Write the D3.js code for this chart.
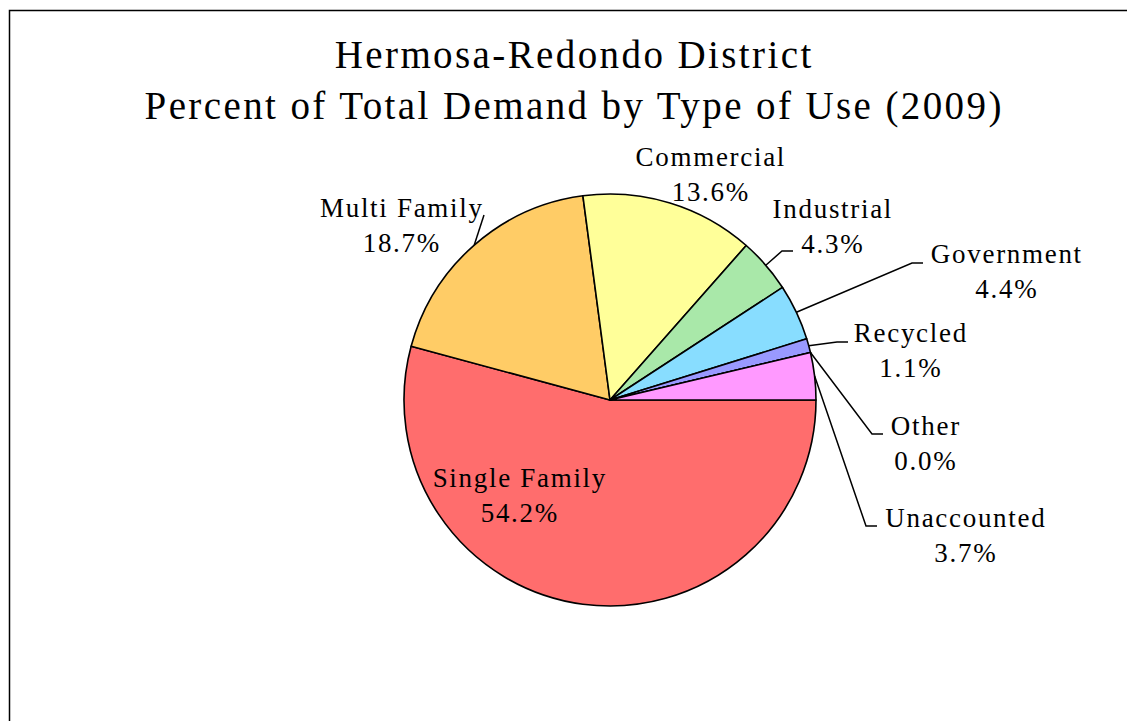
<!DOCTYPE html>
<html>
<head>
<meta charset="utf-8">
<script src="https://cdn.jsdelivr.net/npm/d3@7"></script>
<style>
  body { margin: 0; background: #fff; }
  text { font-family: "Liberation Serif", "DejaVu Serif", serif; fill: #000; }
</style>
</head>
<body>
<div id="chart"></div>
<script>
// data
let categories = ["Single Family", "Multi Family", "Commercial", "Industrial", "Government", "Recycled", "Other", "Unaccounted"];
let percents = [54.2, 18.7, 13.6, 4.3, 4.4, 1.1, 0.0, 3.7];
let colours = ["#ff6d6d", "#ffcc66", "#ffff99", "#a9e8a9", "#88ddff", "#9999ff", "#ff99ff", "#ff99ff"];
let titleLines = ["Hermosa-Redondo District", "Percent of Total Demand by Type of Use (2009)"];

// label layout: centre x, first baseline y, optional leader (elbow point + end x)
let labelLayout = [
    { x: 519, y: 487 },
    { x: 401, y: 217, elbow: [484, 215] },
    { x: 710, y: 166 },
    { x: 832, y: 218, elbow: [782, 251], endX: 793 },
    { x: 1006, y: 263, elbow: [912, 263], endX: 923 },
    { x: 910, y: 342, elbow: [837, 342], endX: 848 },
    { x: 925, y: 435, elbow: [872, 434], endX: 883 },
    { x: 965, y: 527, elbow: [866, 526], endX: 877 }
];

let w = 1127, h = 721;
let cx = 610, cy = 400, radius = 206;
let titleSpacing = 2.4, labelSpacing = 1.7;

const svg = d3.select("#chart")
    .append("svg")
    .attr("width", w)
    .attr("height", h);

svg.append("rect")
    .attr("x", 9.5)
    .attr("y", 10.5)
    .attr("width", 1300)
    .attr("height", 900)
    .attr("fill", "#fff")
    .attr("stroke", "#000")
    .attr("stroke-width", 1.5);

svg.selectAll(".title")
    .data(titleLines)
    .enter()
    .append("text")
    .attr("class", "title")
    .attr("x", 573 + titleSpacing / 2)
    .attr("y", (d, i) => 68 + i * 51)
    .attr("text-anchor", "middle")
    .style("font-size", "39px")
    .style("letter-spacing", titleSpacing + "px")
    .text(d => d);

let data = categories.map((c, i) => ({ name: c, value: percents[i], colour: colours[i], layout: labelLayout[i] }));

// excel starts at 3 o'clock and goes clockwise
let pie = d3.pie()
    .value(d => d.value)
    .sort(null)
    .startAngle(Math.PI / 2)
    .endAngle(Math.PI / 2 + 2 * Math.PI);

let arc = d3.arc().innerRadius(0).outerRadius(radius);

let g = svg.append("g").attr("transform", "translate(" + cx + "," + cy + ")");

let arcs = pie(data);

g.selectAll("path")
    .data(arcs)
    .enter()
    .append("path")
    .attr("d", arc)
    .attr("fill", d => d.data.colour)
    .attr("stroke", "#000")
    .attr("stroke-width", 1.6)
    .attr("stroke-linejoin", "round");

// leader lines
let edgePoint = function (d) {
    let a = (d.startAngle + d.endAngle) / 2;
    return [cx + radius * Math.sin(a), cy - radius * Math.cos(a)];
};

svg.selectAll(".leader")
    .data(arcs.filter(d => d.data.layout.elbow))
    .enter()
    .append("polyline")
    .attr("class", "leader")
    .attr("fill", "none")
    .attr("stroke", "#000")
    .attr("stroke-width", 1.5)
    .attr("points", d => {
        let p = edgePoint(d);
        let L = d.data.layout;
        let pts = [p, L.elbow];
        if (L.endX) pts.push([L.endX, L.elbow[1]]);
        return pts.map(q => q.join(",")).join(" ");
    });

let labels = svg.selectAll(".lbl")
    .data(arcs)
    .enter()
    .append("text")
    .attr("class", "lbl")
    .attr("text-anchor", "middle")
    .style("font-size", "27px")
    .style("letter-spacing", labelSpacing + "px");

labels.append("tspan")
    .attr("x", d => d.data.layout.x + labelSpacing / 2)
    .attr("y", d => d.data.layout.y)
    .text(d => d.data.name);

labels.append("tspan")
    .attr("x", d => d.data.layout.x + labelSpacing / 2)
    .attr("y", d => d.data.layout.y + 35)
    .text(d => d.data.value.toFixed(1) + "%");
</script>
</body>
</html>
